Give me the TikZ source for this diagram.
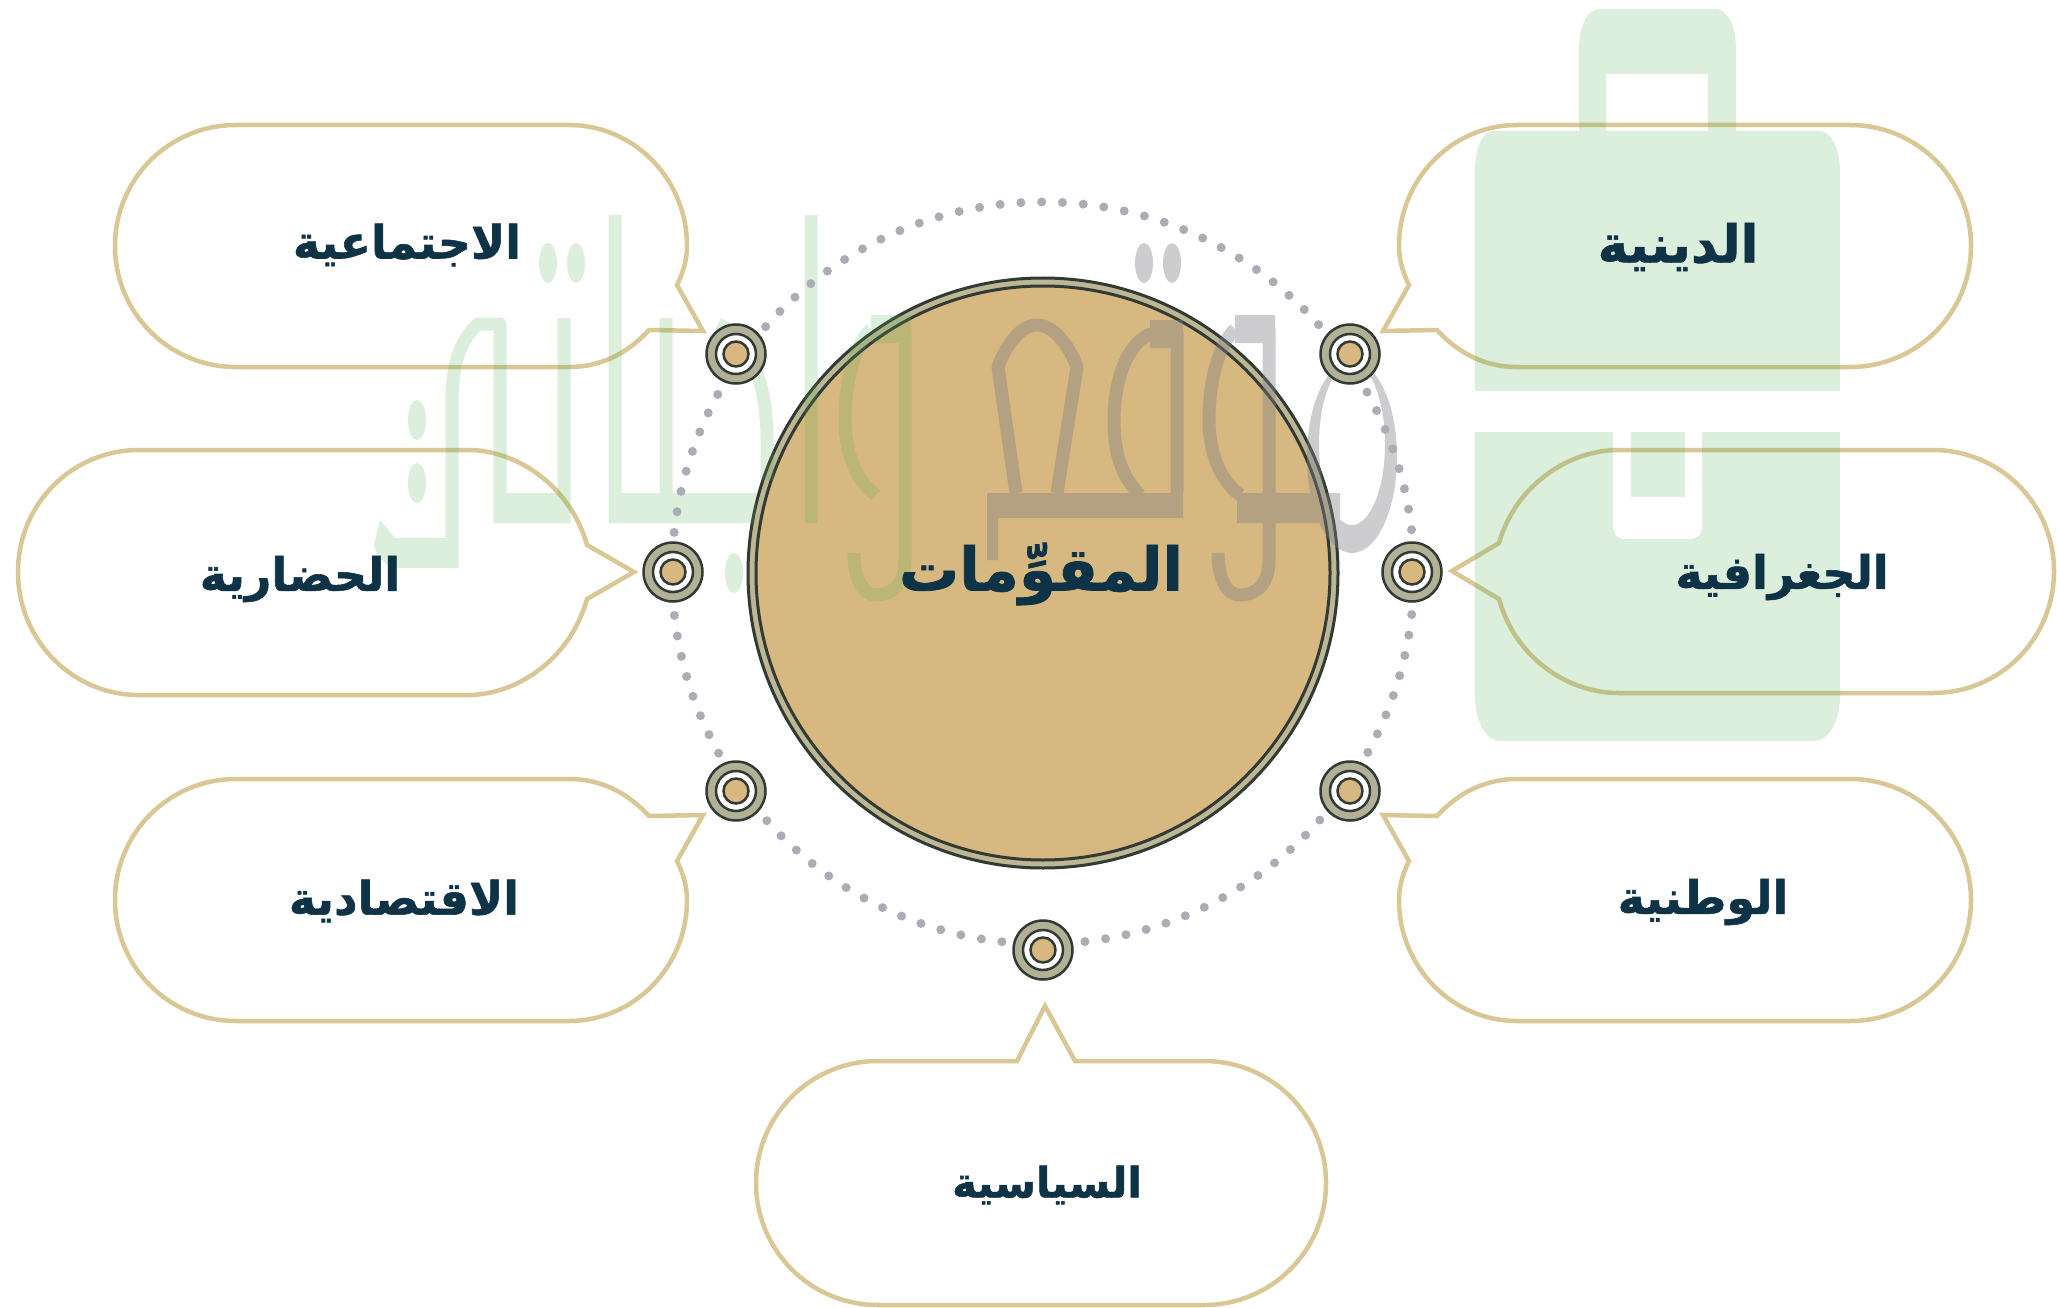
\documentclass[tikz,border=0pt]{standalone}
\usepackage{fontspec}
\TeXXeTstate=1
\newfontfamily\arabicfont[Script=Arabic,FakeBold=1.2]{DejaVu Sans Bold}
\definecolor{bubline}{RGB}{218,199,150}
\definecolor{tanfill}{RGB}{214,184,128}
\definecolor{ringdark}{RGB}{50,58,52}
\definecolor{ringgrey}{RGB}{178,176,150}
\definecolor{dotgrey}{RGB}{172,172,182}
\definecolor{inkblue}{RGB}{14,51,70}
\definecolor{wmgreen}{RGB}{80,170,80}
\definecolor{wmgrey}{RGB}{127,127,135}
\tikzset{
  bubble/.style={draw=bubline,line width=4.5pt,line join=miter},
  lab/.style={text=inkblue,inner sep=0pt,font=\arabicfont\fontsize{46}{56}\selectfont},
  labwide/.style={text=inkblue,inner sep=0pt,font=\arabicfont\fontsize{52}{62}\selectfont},
  labnarrow/.style={text=inkblue,inner sep=0pt,font=\arabicfont\fontsize{42}{52}\selectfont},
  mainlab/.style={text=inkblue,inner sep=0pt,font=\arabicfont\fontsize{60}{72}\selectfont},
  targetouter/.style={circle,inner sep=0pt,draw=ringdark,line width=2.5pt,fill=ringgrey,minimum size=59pt},
  targetmid/.style={circle,inner sep=0pt,draw=ringdark,line width=2.5pt,fill=white,minimum size=40pt},
  targetin/.style={circle,inner sep=0pt,draw=ringdark,line width=2.5pt,fill=tanfill,minimum size=25pt},
  wmstroke/.style={line width=13pt,line join=round,fill=none},
}
\newcommand{\sidebubble}{%
  \draw[bubble] (1383,331) -- (1437,330) .. controls (1460,355) and (1487,367) .. (1517,367)
    -- (1850,367) .. controls (1917,367) and (1971,313) .. (1971,246)
    .. controls (1971,179) and (1917,125) .. (1850,125) -- (1517,125)
    .. controls (1452,125) and (1399,179) .. (1399,246)
    .. controls (1399,260) and (1403,273) .. (1409,285) -- cycle;}
\newcommand{\target}[3]{%
  \node[targetouter] (#1) at (#2,#3) {};
  \node[targetmid] (#1m) at (#1) {};
  \node[targetin] (#1i) at (#1) {};}
\begin{document}
\begin{tikzpicture}[x=1pt,y=-1pt]
\useasboundingbox (0,0) rectangle (2057,1308);
\fill[white] (0,0) rectangle (2057,1308);
% bubbles
\sidebubble
\begin{scope}[shift={(0,1146)},yscale=-1]\sidebubble\end{scope}
\begin{scope}[shift={(2086,0)},xscale=-1]\sidebubble\end{scope}
\begin{scope}[shift={(2086,1146)},xscale=-1,yscale=-1]\sidebubble\end{scope}
\draw[bubble] (1452,571) -- (1499,543) .. controls (1516,484) and (1570,450) .. (1618,450)
  -- (1933,450) .. controls (2000,450) and (2054,504) .. (2054,571)
  .. controls (2054,639) and (2000,693) .. (1933,693) -- (1618,693)
  .. controls (1570,693) and (1516,660) .. (1499,599) -- cycle;
\draw[bubble] (634,572) -- (587,545) .. controls (570,485) and (516,450) .. (468,450)
  -- (139,450) .. controls (72,450) and (18,504) .. (18,572)
  .. controls (18,640) and (72,695) .. (139,695) -- (468,695)
  .. controls (516,695) and (570,660) .. (587,599) -- cycle;
\draw[bubble] (1045,1006) -- (1075,1061) -- (1204,1061)
  .. controls (1272,1061) and (1326,1116) .. (1326,1183)
  .. controls (1326,1250) and (1272,1305) .. (1204,1305) -- (878,1305)
  .. controls (810,1305) and (756,1250) .. (756,1183)
  .. controls (756,1116) and (810,1061) .. (878,1061) -- (1017,1061) -- cycle;
% main circle
\fill[ringgrey!70!bubline] (1043,573) circle[radius=296];
\draw[ringdark,line width=3pt] (1043,573) circle[radius=295];
\draw[ringdark,line width=3pt,fill=tanfill] (1043,573) circle[radius=287];
% watermark, green
\begin{scope}[transparency group,opacity=.2]
\fill[wmgreen,even odd rule]
  (1579,131) -- (1579,49) .. controls (1579,25) and (1588,9) .. (1600,9) -- (1715,9)
  .. controls (1727,9) and (1736,25) .. (1736,49) -- (1736,131) -- (1708,131) -- (1708,74)
  -- (1606,74) -- (1606,131) -- cycle;
\fill[wmgreen] (1475,391) -- (1475,171) .. controls (1475,150) and (1482,131) .. (1493,131)
  -- (1819,131) .. controls (1832,131) and (1840,150) .. (1840,171) -- (1840,391) -- cycle;
\fill[wmgreen] (1475,432) -- (1613,432) -- (1613,525) .. controls (1613,535) and (1617,539) .. (1625,539)
  -- (1690,539) .. controls (1698,539) and (1702,535) .. (1702,525) -- (1702,432) -- (1840,432)
  -- (1840,696) .. controls (1840,722) and (1828,741) .. (1814,741) -- (1500,741)
  .. controls (1486,741) and (1475,722) .. (1475,696) -- cycle;
\fill[wmgreen] (1631,432) rectangle (1685,497);
% letters
\fill[wmgreen] (494,493) rectangle (570,523);
\fill[wmgreen] (609,493) rectangle (756,523);
\fill[wmgreen] (458,538) -- (395,538) -- (380,520) -- (374,545) .. controls (378,560) and (388,568) .. (400,568) -- (458,568) -- cycle;
\fill[wmgreen] (871,315) rectangle (911,343);
\draw[wmgreen,wmstroke]
  (500,523) -- (500,324) -- (478,324) .. controls (460,340) and (452,365) .. (452,400) -- (452,568)
  (564,523) -- (564,318)
  (615,523) -- (615,215)
  (666,523) -- (666,318)
  (811,523) -- (811,215)
  (718,324) .. controls (745,335) and (767,375) .. (767,440) -- (767,480)
  (905,329) -- (905,560) .. controls (905,590) and (886,595) .. (876,595) .. controls (861,595) and (854,575) .. (854,553)
  (871,329) .. controls (855,345) and (845,380) .. (845,420) .. controls (845,450) and (855,480) .. (876,495);
\foreach \px/\py in {548/263,576/263,417/420,417/483,734/573}
  \fill[wmgreen] (\px,\py) ellipse[x radius=9,y radius=20];
\end{scope}
% watermark, grey
\begin{scope}[transparency group,opacity=.39]
\fill[wmgrey] (987,493) rectangle (1183,518);
\fill[wmgrey] (987,493) rectangle (998,560);
\fill[wmgrey] (1237,493) rectangle (1340,523);
\fill[wmgrey] (1235,315) rectangle (1275,343);
\fill[wmgrey] (1150,320) rectangle (1183,348);
\fill[wmgrey,even odd rule] (1352,457) ellipse[x radius=45,y radius=96] (1352,444) ellipse[x radius=33,y radius=81];
\draw[wmgrey,wmstroke]
  (1016,493) -- (998,367) .. controls (1005,347) and (1020,325) .. (1037,325) .. controls (1054,325) and (1070,347) .. (1077,367) -- (1057,493)
  (1177,493) -- (1177,334) -- (1150,334) .. controls (1125,345) and (1114,385) .. (1114,420) .. controls (1114,450) and (1120,475) .. (1140,495)
  (1269,329) -- (1269,560) .. controls (1269,590) and (1250,595) .. (1240,595) .. controls (1225,595) and (1218,575) .. (1218,553)
  (1235,329) .. controls (1219,345) and (1209,380) .. (1209,420) .. controls (1209,450) and (1219,480) .. (1240,495);
\foreach \px/\py in {1144/263,1172/263}
  \fill[wmgrey] (\px,\py) ellipse[x radius=9,y radius=20];
\end{scope}
% dotted ring
\draw[dotgrey,line width=9pt,line cap=round,dash pattern=on 0pt off 20.8pt] (1043,573) circle[radius=371];
% target rings
\target{ta}{736}{354}
\target{tb}{1350}{354}
\target{tc}{673}{572}
\target{td}{1412}{572}
\target{te}{736}{791}
\target{tf}{1350}{791}
\target{tg}{1043}{950}
% labels
\node[mainlab] (main) at (1041,574) {\beginR المقوِّمات\endR};
\node[lab] (l1) at (407,245) {\beginR الاجتماعية\endR};
\node[labwide] (l2) at (1678,247) {\beginR الدينية\endR};
\node[lab] (l3) at (1782,577) {\beginR الجغرافية\endR};
\node[lab] (l4) at (1703,902) {\beginR الوطنية\endR};
\node[lab] (l5) at (300,579) {\beginR الحضارية\endR};
\node[lab] (l6) at (404,901) {\beginR الاقتصادية\endR};
\node[labnarrow] (l7) at (1047,1185) {\beginR السياسية\endR};
\end{tikzpicture}
\end{document}
